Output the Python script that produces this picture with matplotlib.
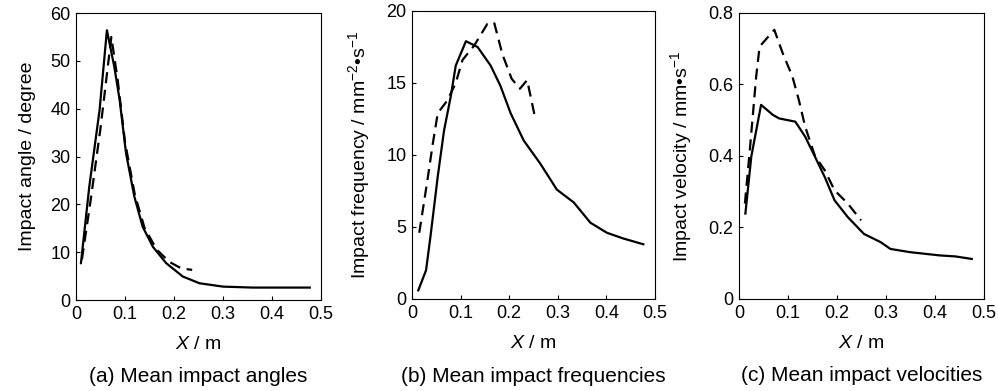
import numpy as np
import matplotlib
matplotlib.use("Agg")
import matplotlib.pyplot as plt
from matplotlib.ticker import FuncFormatter

plt.rcParams['font.family'] = ['Liberation Sans', 'DejaVu Sans']
plt.rcParams['mathtext.fontset'] = 'custom'
plt.rcParams['mathtext.rm'] = 'Liberation Sans'
plt.rcParams['mathtext.it'] = 'Liberation Sans:italic'

# (a) mean impact angles
angle_x_solid = [0.010, 0.027, 0.048, 0.063, 0.078, 0.089, 0.102, 0.119, 0.136, 0.157,
                 0.184, 0.218, 0.252, 0.300, 0.361, 0.477]
angle_y_solid = [7.7, 23.7, 39.7, 56.4, 48.8, 41.8, 30.7, 21.6, 15.3, 11.1,
                 7.7, 4.9, 3.5, 2.8, 2.6, 2.6]
angle_x_dash = [0.012, 0.030, 0.050, 0.072, 0.085, 0.100, 0.120, 0.140, 0.165, 0.190, 0.215, 0.237]
angle_y_dash = [8.5, 21.0, 36.0, 55.0, 46.0, 33.0, 22.0, 15.0, 10.5, 8.0, 6.6, 6.3]

# (b) mean impact frequencies
freq_x_solid = [0.013, 0.029, 0.039, 0.053, 0.066, 0.080, 0.090, 0.111, 0.135, 0.162,
                0.182, 0.203, 0.230, 0.264, 0.298, 0.333, 0.367, 0.401, 0.435, 0.476]
freq_y_solid = [0.6, 2.0, 4.6, 8.5, 11.7, 14.1, 16.2, 17.9, 17.5, 16.2,
                14.8, 12.9, 11.0, 9.4, 7.6, 6.7, 5.3, 4.6, 4.2, 3.8]
freq_x_dash = [0.015, 0.032, 0.042, 0.053, 0.073, 0.090, 0.104, 0.128, 0.155, 0.169,
               0.186, 0.205, 0.222, 0.237, 0.252]
freq_y_dash = [4.6, 8.3, 10.6, 12.9, 13.8, 15.0, 16.6, 17.6, 19.1, 19.2,
               17.0, 15.3, 14.6, 15.2, 12.8]

# (c) mean impact velocities
vel_x_solid = [0.013, 0.025, 0.045, 0.069, 0.082, 0.115, 0.135, 0.155, 0.175, 0.195,
               0.222, 0.255, 0.289, 0.309, 0.349, 0.409, 0.442, 0.475]
vel_y_solid = [0.239, 0.398, 0.543, 0.515, 0.505, 0.496, 0.454, 0.398, 0.341, 0.276,
               0.229, 0.182, 0.159, 0.140, 0.131, 0.122, 0.119, 0.112]
vel_x_dash = [0.012, 0.022, 0.035, 0.042, 0.072, 0.089, 0.109, 0.122, 0.135, 0.155,
              0.175, 0.195, 0.222, 0.249]
vel_y_dash = [0.267, 0.416, 0.622, 0.706, 0.753, 0.688, 0.622, 0.557, 0.482, 0.400,
              0.360, 0.304, 0.267, 0.220]

panels = [
    dict(pos=[0.0762, 0.2327, 0.2455, 0.734], xs=angle_x_solid, ys=angle_y_solid,
         xd=angle_x_dash, yd=angle_y_dash, ylim=(0, 60), yticks=[0, 10, 20, 30, 40, 50, 60],
         ylabel='Impact angle / degree', caption='(a) Mean impact angles'),
    dict(pos=[0.4128, 0.2353, 0.2435, 0.7366], xs=freq_x_solid, ys=freq_y_solid,
         xd=freq_x_dash, yd=freq_y_dash, ylim=(0, 20), yticks=[0, 5, 10, 15, 20],
         ylabel='Impact frequency / mm$^{-2}$\u2022s$^{-1}$', caption='(b) Mean impact frequencies'),
    dict(pos=[0.7405, 0.2353, 0.2455, 0.7315], xs=vel_x_solid, ys=vel_y_solid,
         xd=vel_x_dash, yd=vel_y_dash, ylim=(0, 0.8), yticks=[0, 0.2, 0.4, 0.6, 0.8],
         ylabel='Impact velocity / mm\u2022s$^{-1}$', caption='(c) Mean impact velocities'),
]

fmt = FuncFormatter(lambda v, p: f'{v:g}')

fig = plt.figure(figsize=(9.98, 3.91), dpi=100)
for p in panels:
    ax = fig.add_axes(p['pos'])
    ax.plot(p['xs'], p['ys'], color='black', lw=1.6)
    ax.plot(p['xd'], p['yd'], color='black', lw=1.6, dashes=(5, 3))
    ax.set_xlim(0, 0.5)
    ax.set_ylim(*p['ylim'])
    ax.set_xticks([0, 0.1, 0.2, 0.3, 0.4, 0.5])
    ax.set_yticks(p['yticks'])
    ax.xaxis.set_major_formatter(fmt)
    ax.yaxis.set_major_formatter(fmt)
    ax.tick_params(direction='in', length=3, width=0.8, labelsize=13, pad=4)
    for s in ax.spines.values():
        s.set_linewidth(0.8)
    ax.set_ylabel(p['ylabel'], fontsize=14, labelpad=10)
    ax.set_xlabel('$X$ / m', fontsize=14, labelpad=10)
    ax.text(0.5, -0.235, p['caption'], transform=ax.transAxes, ha='center', va='top', fontsize=15)

fig.savefig('out.png', dpi=100)
